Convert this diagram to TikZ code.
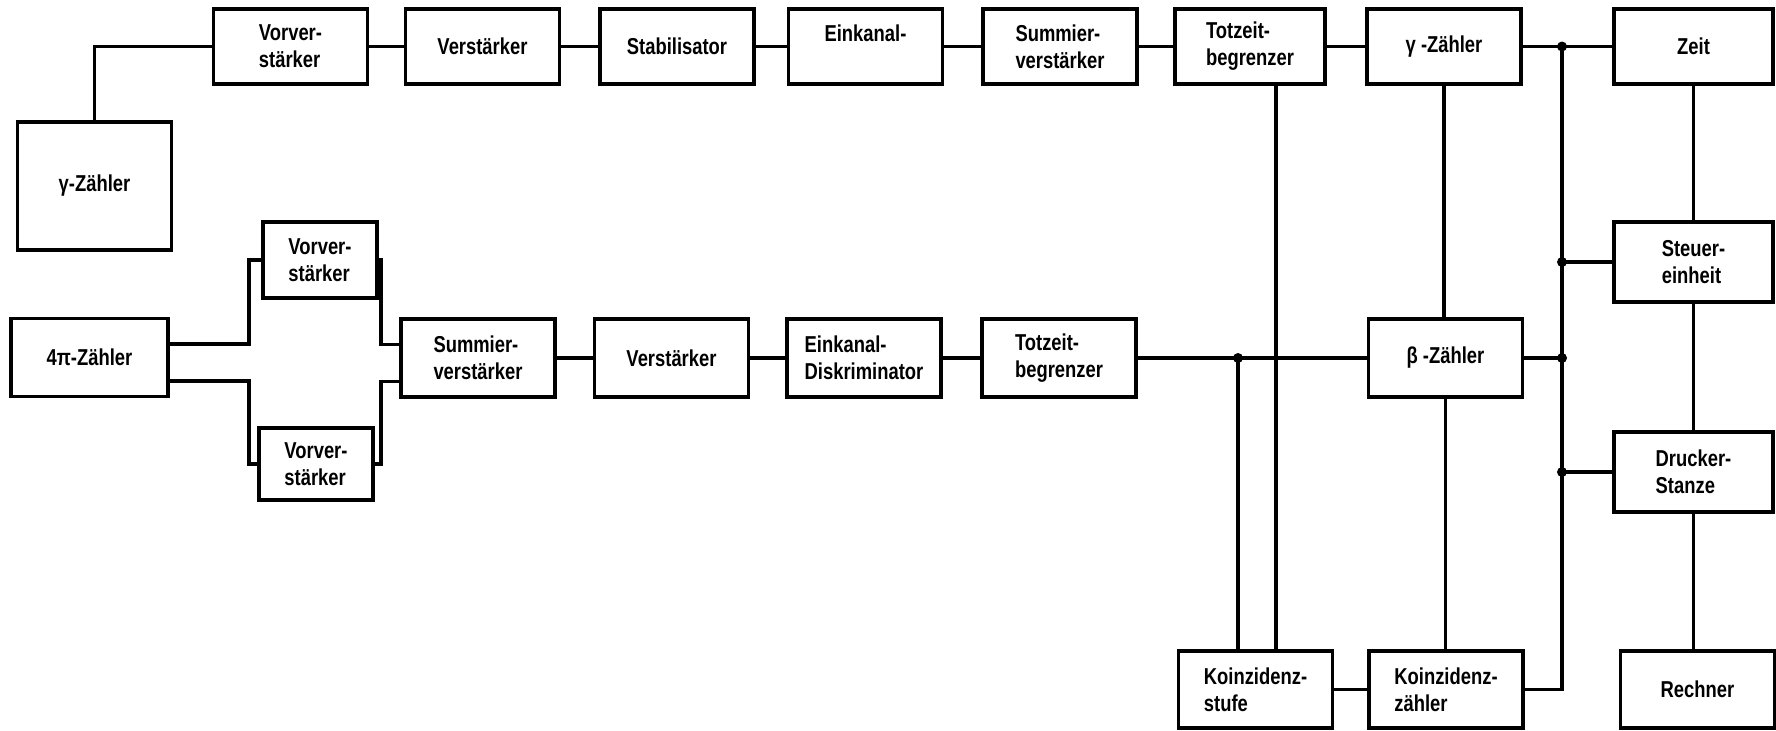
\documentclass[tikz,border=0pt]{standalone}
\usepackage{fontspec}
\setmainfont{Liberation Sans}[FakeStretch=0.8]
\usetikzlibrary{calc}
\begin{document}
\begin{tikzpicture}[x=0.5pt,y=-0.5pt,
  font=\bfseries\fontsize{11.5}{13.5}\selectfont,
  blk/.style={draw,line width=1.7pt,align=left,inner sep=0pt,minimum width=77pt,minimum height=37.5pt},
  wire/.style={line width=1.6pt},
  dot/.style={circle,fill,inner sep=0pt,minimum size=5pt}
]
\useasboundingbox (0,0) rectangle (1776,730);

% upper chain
\node[blk] (vv1) at (290.5,46.5) {Vorver-\\stärker};
\node[blk] (vs1) at (482.5,46.5) {Verstärker};
\node[blk] (stab) at (677,46.5) {Stabilisator};
\node[blk] (ek1) at (865.5,46.5) {Einkanal-\\\mbox{}};
\node[blk] (sv1) at (1060,46.5) {Summier-\\verstärker};
\node[blk,minimum width=75pt] (tz1) at (1250,46.5) {Totzeit-\\begrenzer};
\node[blk] (gz1) at (1444,46.5) {γ -Zähler};
\node[blk,minimum width=79.5pt] (zeit) at (1693.5,46.5) {Zeit};

% detectors and preamplifiers
\node[blk,minimum height=64pt] (gbig) at (94.5,186) {γ-Zähler};
\node[blk,minimum width=78.5pt,minimum height=39pt] (pi) at (89.5,357.5) {4π-Zähler};
\node[blk,minimum width=57pt,minimum height=38pt] (vva) at (320,260) {Vorver-\\stärker};
\node[blk,minimum width=57pt,minimum height=36pt] (vvb) at (316,464) {Vorver-\\stärker};

% lower chain
\node[blk,minimum height=39pt] (sv2) at (478,358) {Summier-\\verstärker};
\node[blk,minimum height=39pt] (vs2) at (671.5,358) {Verstärker};
\node[blk,minimum height=39pt] (ekd) at (864,358) {Einkanal-\\Diskriminator};
\node[blk,minimum height=39pt] (tz2) at (1059,358) {Totzeit-\\begrenzer};
\node[blk,minimum height=39pt] (bz) at (1445.5,358) {β -Zähler};

% output side
\node[blk,minimum width=79.5pt,minimum height=40pt] (steu) at (1693.5,262) {Steuer-\\einheit};
\node[blk,minimum width=79.5pt,minimum height=40pt] (druck) at (1693.5,472) {Drucker-\\Stanze};
\node[blk,minimum height=38.5pt] (kzs) at (1255.5,689.5) {Koinzidenz-\\stufe};
\node[blk,minimum height=38.5pt] (kzz) at (1446,689.5) {Koinzidenz-\\zähler};
\node[blk,minimum height=38.5pt] (rech) at (1697.5,689.5) {Rechner};

\coordinate (sl) at (249,0);
\coordinate (sr) at (381,0);
\coordinate (tzd) at (1276,0);
\coordinate (jk) at (1238,358);
\coordinate (bt) at (1562,46.5);

% connections
\draw[wire] (gbig.north) |- (vv1.west);
\foreach \a/\b in {vv1/vs1,vs1/stab,stab/ek1,ek1/sv1,sv1/tz1,tz1/gz1,gz1/zeit,
  sv2/vs2,vs2/ekd,ekd/tz2,tz2/bz,kzs/kzz,zeit/steu,steu/druck}
  \draw[wire] (\a) -- (\b);
\draw[wire] ([yshift=6.75pt]pi.east) -| (sl |- vva.west) -- (vva.west);
\draw[wire] ([yshift=-11.75pt]pi.east) -| (sl |- vvb.west) -- (vvb.west);
\draw[wire] (vva.east) -- (vva.east -| sr) |- ([yshift=6.75pt]sv2.west);
\draw[wire] (vvb.east) -- (vvb.east -| sr) |- ([yshift=-11.75pt]sv2.west);
\draw[wire] (tz1.south -| tzd) -- (kzs.north -| tzd);
\draw[wire] (jk) -- (jk |- kzs.north);
\draw[wire] (gz1.south) -- (gz1.south |- bz.north);
\draw[wire] (bz.south) -- (bz.south |- kzz.north);
\draw[wire] (bt) |- (kzz.east);
\draw[wire] (steu.west -| bt) -- (steu.west);
\draw[wire] (druck.west -| bt) -- (druck.west);
\draw[wire] (bz.east) -- (bz.east -| bt);
\draw[wire] (druck.south) -- (druck.south |- rech.north);

\foreach \p in {jk,bt,steu.west -| bt,druck.west -| bt,bz.east -| bt}
  \node[dot] at (\p) {};
\end{tikzpicture}
\end{document}
